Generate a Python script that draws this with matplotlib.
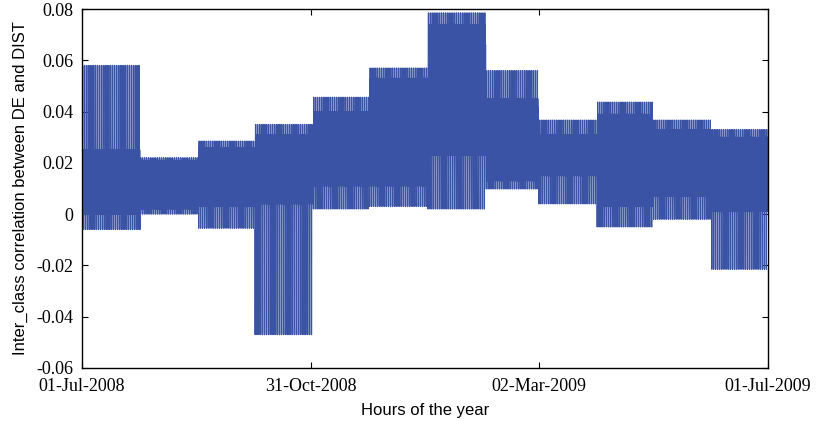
import numpy as np
import matplotlib
matplotlib.use("Agg")
import matplotlib.pyplot as plt

# Hourly inter-class correlation, one 24-hour profile per month (Jul-2008 .. Jun-2009)
jul_2008 = [0.010, 0.004, 0.001, 0.000, 0.003, 0.012, 0.025, 0.058, 0.022, 0.015, 0.018, 0.020,
            0.024, 0.019, 0.016, 0.013, 0.021, 0.025, 0.017, 0.008, -0.006, 0.002, 0.006, 0.009]
aug_2008 = [0.008, 0.004, 0.001, 0.000, 0.003, 0.009, 0.016, 0.022, 0.018, 0.012, 0.014, 0.017,
            0.021, 0.019, 0.013, 0.010, 0.015, 0.020, 0.016, 0.007, 0.002, 0.005, 0.006, 0.011]
sep_2008 = [0.006, 0.002, 0.000, -0.0055, 0.001, 0.010, 0.020, 0.026, 0.0285, 0.015, 0.018, 0.022,
            0.026, 0.021, 0.014, 0.011, 0.017, 0.024, 0.019, 0.009, 0.003, 0.005, 0.007, 0.012]
oct_2008 = [0.008, 0.003, 0.001, -0.047, 0.002, 0.012, 0.024, 0.031, 0.035, 0.019, 0.022, 0.027,
            0.031, 0.025, 0.016, 0.013, 0.020, 0.029, 0.023, 0.010, 0.004, 0.006, 0.009, 0.014]
nov_2008 = [0.015, 0.010, 0.008, 0.002, 0.009, 0.018, 0.030, 0.0406, 0.0456, 0.026, 0.029, 0.034,
            0.040, 0.032, 0.022, 0.019, 0.027, 0.038, 0.031, 0.016, 0.011, 0.012, 0.014, 0.020]
dec_2008 = [0.016, 0.010, 0.008, 0.003, 0.009, 0.020, 0.036, 0.050, 0.057, 0.030, 0.034, 0.042,
            0.053, 0.040, 0.026, 0.022, 0.032, 0.048, 0.038, 0.018, 0.011, 0.013, 0.015, 0.024]
jan_2009 = [0.028, 0.022, 0.020, 0.002, 0.021, 0.032, 0.052, 0.072, 0.0785, 0.042, 0.047, 0.058,
            0.074, 0.055, 0.036, 0.031, 0.045, 0.066, 0.050, 0.029, 0.023, 0.024, 0.026, 0.034]
feb_2009 = [0.020, 0.015, 0.0126, 0.0098, 0.014, 0.022, 0.032, 0.0456, 0.056, 0.028, 0.031, 0.037,
            0.045, 0.036, 0.025, 0.021, 0.029, 0.042, 0.034, 0.018, 0.013, 0.016, 0.017, 0.024]
mar_2009 = [0.019, 0.016, 0.0145, 0.004, 0.015, 0.020, 0.026, 0.031, 0.0367, 0.023, 0.025, 0.028,
            0.031, 0.027, 0.021, 0.018, 0.024, 0.030, 0.026, 0.017, 0.015, 0.016, 0.017, 0.022]
apr_2009 = [0.010, 0.004, 0.001, -0.005, 0.002, 0.014, 0.026, 0.040, 0.0437, 0.020, 0.024, 0.031,
            0.039, 0.030, 0.017, 0.013, 0.022, 0.036, 0.028, 0.009, 0.003, 0.006, 0.008, 0.016]
may_2009 = [0.013, 0.009, 0.0067, -0.002, 0.008, 0.016, 0.024, 0.0347, 0.0367, 0.020, 0.022, 0.027,
            0.033, 0.026, 0.018, 0.015, 0.021, 0.031, 0.025, 0.012, 0.007, 0.010, 0.011, 0.017]
jun_2009 = [0.008, 0.003, 0.000, -0.0215, -0.012, 0.010, 0.020, 0.031, 0.033, 0.016, 0.019, 0.024,
            0.030, 0.023, 0.014, 0.011, 0.018, 0.028, 0.021, 0.006, 0.001, 0.004, 0.005, 0.012]

profiles = [jul_2008, aug_2008, sep_2008, oct_2008, nov_2008, dec_2008,
            jan_2009, feb_2009, mar_2009, apr_2009, may_2009, jun_2009]
days_in_month = [31, 31, 30, 31, 30, 31, 31, 28, 31, 30, 31, 30]

date_labels = ["01-Jul-2008", "31-Oct-2008", "02-Mar-2009", "01-Jul-2009"]
y_ticks = [-0.06, -0.04, -0.02, 0, 0.02, 0.04, 0.06, 0.08]
y_labels = ["-0.06", "-0.04", "-0.02", "0", "0.02", "0.04", "0.06", "0.08"]

# repeat each month's daily profile over its days -> 8760 hourly values
corr = np.concatenate([np.tile(p, d) for p, d in zip(profiles, days_in_month)])
hours = np.arange(len(corr))

fig = plt.figure(figsize=(8.16, 4.21), dpi=100)
ax = fig.add_axes([82 / 816, 1 - 368 / 421, 686 / 816, 359 / 421])

ax.plot(hours, corr, color="#3a53a4", linewidth=0.85)

ax.set_xlim(0, len(corr))
ax.set_ylim(-0.06, 0.08)
ax.set_xticks(np.linspace(0, len(corr), len(date_labels)))
ax.set_xticklabels(date_labels, family="Liberation Serif", fontsize=13)
ax.set_yticks(y_ticks)
ax.set_yticklabels(y_labels, family="Liberation Serif", fontsize=13)
ax.tick_params(direction="in", length=4, width=0.8, top=True, right=True)
ax.tick_params(axis="x", pad=7)
ax.tick_params(axis="y", pad=6)

for s in ax.spines.values():
    s.set_linewidth(1.0)

ax.set_xlabel("Hours of the year", family="Liberation Sans", fontsize=12, labelpad=6)
ax.set_ylabel("Inter_class correlation between DE and DIST", family="Liberation Sans",
              fontsize=12, labelpad=6)

fig.savefig("out.png", dpi=100)
